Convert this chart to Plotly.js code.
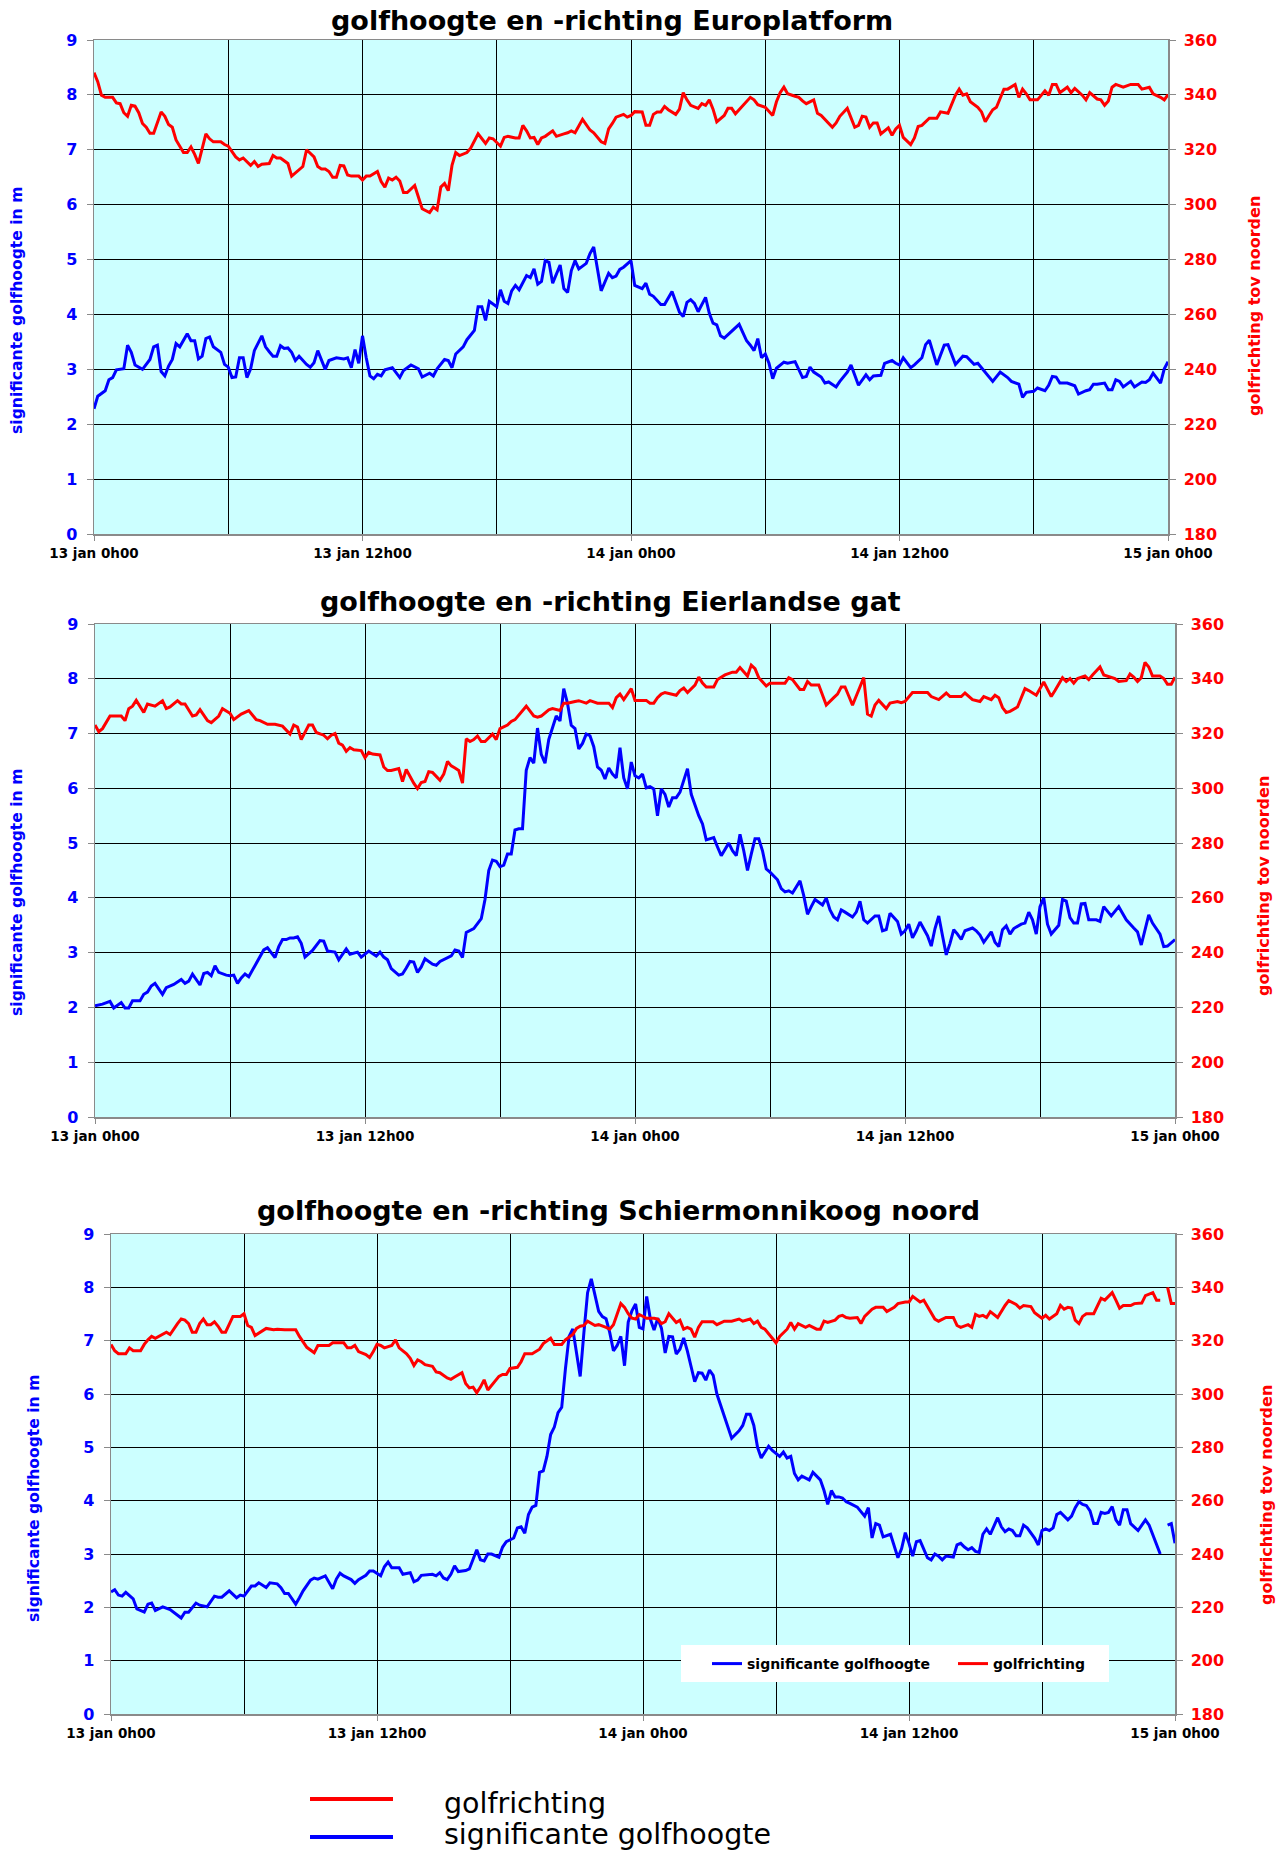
<!DOCTYPE html>
<html>
<head>
<meta charset="utf-8">
<script src="https://cdn.plot.ly/plotly-3.0.1.min.js"></script>
<style>
  html, body { margin: 0; padding: 0; background: #fff; }
  #chart { width: 1287px; height: 1852px; }
</style>
</head>
<body>
<div id="chart"></div>
<script>
// Time axis in minutes after 13 jan 0h00
const tickMinutes = [0, 720, 1440, 2160, 2880];
const tickLabels = ['13 jan 0h00', '13 jan 12h00', '14 jan 0h00', '14 jan 12h00', '15 jan 0h00'];
const gridMinutes = [360, 1080, 1800, 2520];

const stations = ['Europlatform', 'Eierlandse gat', 'Schiermonnikoog noord'];
const heightName = 'significante golfhoogte';
const directionName = 'golfrichting';

// [minuut, significante golfhoogte in m]
const europlatformHeight = [
  [0,2.28],[10,2.51],[30,2.61],[40,2.81],[50,2.85],[60,2.99],[80,3.01],[90,3.44],[100,3.31],[110,3.08],
  [130,3.00],[150,3.18],[160,3.41],[170,3.44],[180,2.96],[190,2.88],[200,3.06],[210,3.18],[220,3.47],[230,3.41],
  [250,3.65],[260,3.52],[270,3.52],[280,3.19],[290,3.24],[300,3.56],[310,3.59],[320,3.41],[340,3.31],[350,3.09],
  [360,3.04],[370,2.85],[380,2.86],[390,3.21],[400,3.21],[410,2.85],[420,3.01],[430,3.34],[450,3.61],[460,3.41],
  [470,3.32],[480,3.24],[490,3.24],[500,3.43],[510,3.38],[520,3.39],[530,3.31],[540,3.16],[550,3.24],[570,3.09],
  [580,3.04],[590,3.12],[600,3.34],[610,3.18],[620,3.00],[630,3.16],[640,3.19],[650,3.21],[670,3.19],[680,3.21],
  [690,3.03],[700,3.36],[710,3.11],[720,3.61],[730,3.21],[740,2.88],[750,2.83],[760,2.91],[770,2.88],[780,2.99],
  [800,3.03],[820,2.85],[830,2.98],[850,3.08],[870,3.01],[880,2.86],[900,2.93],[910,2.88],[920,3.01],[940,3.18],
  [950,3.16],[960,3.03],[970,3.28],[990,3.41],[1000,3.54],[1020,3.71],[1030,4.14],[1040,4.14],[1050,3.89],[1060,4.24],
  [1080,4.14],[1090,4.45],[1100,4.24],[1110,4.20],[1120,4.43],[1130,4.53],[1140,4.45],[1160,4.71],[1170,4.67],[1180,4.83],
  [1190,4.55],[1200,4.60],[1210,4.98],[1220,4.95],[1230,4.57],[1250,4.90],[1260,4.47],[1270,4.40],[1280,4.80],[1290,4.98],
  [1300,4.83],[1320,4.93],[1330,5.11],[1340,5.23],[1360,4.43],[1380,4.75],[1390,4.67],[1400,4.70],[1410,4.82],[1420,4.86],
  [1440,4.98],[1450,4.53],[1470,4.47],[1480,4.57],[1490,4.37],[1500,4.33],[1520,4.18],[1530,4.18],[1550,4.42],[1570,4.04],
  [1580,3.96],[1590,4.22],[1600,4.27],[1610,4.20],[1620,4.05],[1640,4.31],[1650,4.02],[1660,3.84],[1670,3.81],[1680,3.61],
  [1690,3.57],[1710,3.69],[1730,3.82],[1740,3.67],[1750,3.52],[1760,3.44],[1770,3.34],[1780,3.56],[1790,3.21],[1800,3.28],
  [1810,3.11],[1820,2.83],[1830,3.02],[1850,3.13],[1860,3.11],[1880,3.14],[1900,2.85],[1910,2.87],[1920,3.04],[1930,2.95],
  [1950,2.86],[1960,2.75],[1970,2.77],[1990,2.68],[2000,2.78],[2020,2.95],[2030,3.08],[2050,2.71],[2070,2.90],[2080,2.81],
  [2090,2.88],[2110,2.89],[2120,3.11],[2140,3.16],[2150,3.11],[2160,3.08],[2170,3.21],[2190,3.03],[2200,3.08],[2220,3.21],
  [2230,3.45],[2240,3.53],[2260,3.08],[2280,3.44],[2290,3.45],[2310,3.09],[2330,3.24],[2340,3.23],[2360,3.09],[2370,3.11],
  [2390,2.95],[2410,2.78],[2430,2.95],[2450,2.85],[2460,2.78],[2480,2.73],[2490,2.49],[2500,2.58],[2520,2.60],[2530,2.66],
  [2550,2.61],[2560,2.71],[2570,2.87],[2580,2.86],[2590,2.75],[2610,2.75],[2630,2.70],[2640,2.55],[2660,2.61],[2670,2.63],
  [2680,2.73],[2690,2.73],[2710,2.75],[2720,2.63],[2730,2.63],[2740,2.81],[2750,2.78],[2760,2.68],[2780,2.78],[2790,2.68],
  [2810,2.77],[2820,2.76],[2830,2.81],[2840,2.93],[2860,2.75],[2870,3.01],[2880,3.14]
];

// [minuut, golfrichting in graden t.o.v. noorden]
const europlatformDirection = [
  [0,348.1],[10,344.8],[20,339.9],[30,339.1],[50,339.1],[60,337.1],[70,336.8],[80,333.5],[90,332.2],[100,336.2],
  [110,335.9],[120,333.5],[130,329.6],[140,328.2],[150,326.0],[160,326.0],[180,333.8],[190,332.2],[200,329.2],[210,328.2],
  [220,323.6],[240,319.0],[250,319.0],[260,321.0],[270,318.3],[280,315.0],[300,325.8],[310,324.0],[320,322.9],[340,322.9],
  [350,321.9],[360,321.3],[380,317.4],[390,316.3],[400,317.0],[420,314.3],[430,315.7],[440,313.9],[450,314.7],[470,315.0],
  [480,317.9],[490,317.0],[500,317.0],[520,315.0],[530,310.4],[550,312.6],[560,313.9],[570,320.0],[590,317.4],[600,313.9],
  [610,313.0],[620,313.0],[630,312.1],[640,310.0],[650,310.0],[660,314.3],[670,314.1],[680,310.8],[690,310.4],[710,310.4],
  [720,309.0],[730,310.4],[740,310.4],[760,312.1],[770,308.4],[780,306.4],[790,309.7],[800,309.0],[810,310.0],[820,308.6],
  [830,304.4],[840,304.4],[860,307.0],[880,298.5],[890,297.8],[900,297.1],[910,299.1],[920,298.1],[930,306.4],[940,307.7],
  [950,305.1],[960,314.3],[970,319.0],[980,317.9],[1000,319.0],[1010,320.6],[1030,325.8],[1050,322.3],[1060,324.3],[1070,324.0],
  [1090,321.3],[1100,324.5],[1110,324.9],[1130,324.3],[1140,324.3],[1150,328.9],[1160,326.9],[1170,324.3],[1180,324.5],[1190,321.9],
  [1200,324.3],[1210,324.9],[1230,326.9],[1240,324.9],[1260,325.8],[1270,326.2],[1280,326.9],[1290,326.2],[1310,331.1],[1330,327.2],
  [1340,326.2],[1350,324.5],[1360,322.9],[1370,322.3],[1380,327.6],[1390,329.6],[1400,331.9],[1420,332.9],[1430,331.9],[1440,332.5],
  [1450,333.9],[1470,333.8],[1480,328.9],[1490,328.9],[1500,332.9],[1510,333.8],[1520,333.8],[1530,335.8],[1540,334.6],[1560,332.9],
  [1570,334.8],[1580,340.8],[1590,338.2],[1600,336.2],[1620,335.1],[1630,336.8],[1640,336.2],[1650,338.2],[1660,334.8],[1670,330.2],
  [1680,331.3],[1690,332.5],[1700,335.1],[1710,335.1],[1720,333.1],[1740,336.2],[1750,337.5],[1760,339.1],[1770,338.2],[1780,336.4],
  [1800,335.5],[1810,333.8],[1820,332.5],[1830,337.5],[1840,340.8],[1850,342.8],[1860,340.4],[1880,339.5],[1890,339.1],[1900,337.8],
  [1910,336.8],[1930,338.2],[1940,333.3],[1950,332.5],[1970,329.8],[1980,328.2],[1990,329.8],[2000,332.2],[2020,335.1],[2030,331.5],
  [2040,328.2],[2050,328.9],[2060,332.2],[2070,331.9],[2080,328.2],[2090,329.8],[2100,329.8],[2110,325.8],[2130,328.0],[2140,325.3],
  [2150,327.6],[2160,328.9],[2170,324.5],[2190,321.9],[2200,324.3],[2210,328.5],[2220,328.9],[2240,331.5],[2260,331.5],[2270,333.8],
  [2290,333.3],[2310,339.9],[2320,342.1],[2330,339.9],[2340,340.4],[2350,337.5],[2370,335.5],[2380,333.8],[2390,330.2],[2400,332.5],
  [2410,334.6],[2420,335.5],[2440,342.1],[2450,342.1],[2470,343.8],[2480,339.1],[2490,342.1],[2500,340.4],[2510,338.2],[2530,338.2],
  [2550,341.5],[2560,339.9],[2570,343.8],[2580,343.8],[2590,340.8],[2610,342.8],[2620,340.8],[2630,342.4],[2650,339.9],[2660,338.2],
  [2670,340.8],[2690,338.5],[2700,338.2],[2710,336.2],[2720,337.8],[2730,342.8],[2740,343.8],[2760,342.8],[2780,343.8],[2800,343.8],
  [2810,342.1],[2830,342.8],[2840,340.4],[2860,339.1],[2870,338.2],[2880,340.1]
];

const eierlandHeight = [
  [0,2.03],[20,2.06],[40,2.11],[50,1.99],[70,2.09],[80,1.99],[90,1.99],[100,2.12],[120,2.12],[130,2.24],
  [140,2.28],[150,2.39],[160,2.44],[180,2.24],[190,2.36],[210,2.42],[230,2.51],[240,2.44],[250,2.48],[260,2.61],
  [280,2.41],[290,2.62],[300,2.64],[310,2.58],[320,2.76],[330,2.64],[350,2.59],[360,2.58],[370,2.59],[380,2.44],
  [390,2.54],[400,2.61],[410,2.56],[430,2.81],[440,2.91],[450,3.05],[460,3.09],[480,2.91],[490,3.11],[500,3.24],
  [510,3.24],[520,3.27],[530,3.27],[540,3.29],[550,3.17],[560,2.92],[580,3.04],[590,3.14],[600,3.22],[610,3.21],
  [620,3.03],[640,3.01],[650,2.87],[670,3.07],[680,2.97],[700,3.01],[710,2.92],[730,3.03],[750,2.94],[760,3.01],
  [770,2.92],[780,2.87],[790,2.71],[810,2.59],[820,2.61],[830,2.72],[840,2.84],[850,2.83],[860,2.64],[870,2.74],
  [880,2.89],[900,2.79],[910,2.77],[920,2.84],[930,2.87],[940,2.91],[950,2.94],[960,3.05],[970,3.03],[980,2.91],
  [990,3.37],[1010,3.44],[1020,3.54],[1030,3.62],[1040,3.97],[1050,4.50],[1060,4.69],[1070,4.67],[1080,4.57],[1090,4.60],
  [1100,4.80],[1110,4.80],[1120,5.24],[1130,5.26],[1140,5.26],[1150,6.33],[1160,6.56],[1170,6.46],[1180,7.10],[1190,6.62],
  [1200,6.46],[1210,6.89],[1230,7.32],[1240,7.23],[1250,7.82],[1260,7.55],[1270,7.15],[1280,7.09],[1290,6.72],[1300,6.82],
  [1310,6.99],[1320,6.96],[1330,6.76],[1340,6.39],[1350,6.33],[1360,6.17],[1370,6.37],[1380,6.26],[1390,6.19],[1400,6.74],
  [1410,6.19],[1420,5.99],[1430,6.48],[1440,6.23],[1450,6.19],[1460,6.26],[1470,6.01],[1480,6.03],[1490,5.99],[1500,5.50],
  [1510,5.99],[1520,5.89],[1530,5.66],[1540,5.83],[1550,5.83],[1560,5.93],[1580,6.36],[1590,5.89],[1610,5.50],[1620,5.35],
  [1630,5.06],[1650,5.10],[1660,4.93],[1670,4.77],[1690,5.00],[1700,4.86],[1710,4.77],[1720,5.16],[1730,4.86],[1740,4.50],
  [1750,4.80],[1760,5.08],[1770,5.08],[1780,4.86],[1790,4.53],[1800,4.47],[1820,4.33],[1830,4.17],[1840,4.11],[1850,4.13],
  [1860,4.09],[1880,4.31],[1890,4.04],[1900,3.70],[1910,3.84],[1920,3.97],[1940,3.87],[1950,4.00],[1960,3.78],[1970,3.65],
  [1980,3.60],[1990,3.78],[2000,3.74],[2020,3.65],[2030,3.74],[2040,3.94],[2050,3.60],[2060,3.54],[2080,3.67],[2090,3.67],
  [2100,3.40],[2110,3.42],[2120,3.72],[2140,3.57],[2150,3.34],[2160,3.40],[2170,3.52],[2180,3.27],[2190,3.40],[2200,3.56],
  [2220,3.31],[2230,3.12],[2240,3.44],[2250,3.67],[2260,3.31],[2270,2.96],[2280,3.17],[2290,3.42],[2300,3.34],[2310,3.24],
  [2320,3.40],[2340,3.45],[2350,3.40],[2360,3.32],[2370,3.19],[2390,3.38],[2400,3.19],[2410,3.11],[2420,3.42],[2430,3.49],
  [2440,3.34],[2450,3.44],[2470,3.52],[2480,3.54],[2490,3.74],[2500,3.60],[2510,3.34],[2520,3.84],[2530,4.00],[2540,3.52],
  [2550,3.34],[2570,3.50],[2580,3.97],[2590,3.94],[2600,3.64],[2610,3.54],[2620,3.54],[2630,3.89],[2640,3.90],[2650,3.60],
  [2670,3.60],[2680,3.57],[2690,3.84],[2710,3.67],[2730,3.84],[2750,3.60],[2770,3.45],[2780,3.38],[2790,3.14],[2810,3.69],
  [2820,3.54],[2840,3.34],[2850,3.11],[2860,3.12],[2880,3.24]
];

const eierlandDirection = [
  [0,323.1],[10,320.7],[20,321.8],[40,326.4],[60,326.4],[70,326.4],[80,324.7],[90,329.1],[100,330.0],[110,332.1],
  [130,327.7],[140,330.8],[160,330.0],[180,332.0],[190,329.1],[200,329.7],[220,332.0],[230,330.8],[240,330.8],[260,326.4],
  [270,326.8],[280,328.7],[300,324.7],[310,324.0],[330,326.4],[340,329.1],[360,327.4],[370,325.1],[390,327.1],[400,327.7],
  [410,328.4],[430,325.1],[440,324.7],[460,323.4],[480,323.4],[500,322.7],[520,319.8],[530,323.1],[540,322.4],[550,317.8],
  [570,323.1],[580,323.1],[590,320.4],[610,319.4],[620,318.1],[630,319.4],[640,320.0],[650,316.5],[660,315.8],[670,313.5],
  [680,314.9],[690,314.1],[710,313.8],[720,311.2],[730,313.1],[740,312.5],[760,312.2],[770,307.8],[780,306.5],[790,306.5],
  [810,307.2],[820,302.5],[830,306.9],[850,301.9],[860,299.9],[870,302.1],[880,302.5],[890,306.1],[900,305.8],[920,302.9],
  [930,305.2],[940,309.8],[950,308.2],[960,307.4],[970,306.5],[980,301.9],[990,318.1],[1000,317.1],[1010,317.8],[1020,319.1],
  [1030,317.1],[1040,317.1],[1060,319.8],[1070,317.8],[1080,321.8],[1100,323.1],[1110,324.4],[1120,325.1],[1140,328.4],[1150,330.0],
  [1170,326.4],[1180,326.0],[1190,326.4],[1210,328.7],[1220,329.1],[1240,328.4],[1250,331.1],[1260,331.1],[1280,331.7],[1290,332.0],
  [1310,331.1],[1320,332.0],[1340,331.1],[1350,331.1],[1370,331.1],[1380,329.5],[1390,333.1],[1400,334.4],[1410,332.4],[1430,336.4],
  [1440,332.1],[1450,332.1],[1470,332.1],[1480,331.1],[1490,331.1],[1500,333.1],[1510,334.4],[1520,335.0],[1540,334.4],[1550,334.0],
  [1560,335.7],[1570,336.6],[1580,335.0],[1600,337.7],[1610,340.6],[1620,338.4],[1630,337.0],[1650,337.0],[1660,339.7],[1680,341.4],
  [1700,342.4],[1710,342.4],[1720,344.1],[1740,341.0],[1750,345.0],[1760,343.7],[1770,340.4],[1790,337.4],[1800,338.4],[1820,338.4],
  [1840,338.4],[1850,340.4],[1860,339.7],[1880,336.1],[1890,336.1],[1900,339.0],[1910,337.7],[1930,337.7],[1940,334.4],[1950,330.4],
  [1970,333.1],[1980,334.4],[1990,337.0],[2000,337.0],[2010,333.7],[2020,330.4],[2030,333.7],[2050,340.4],[2060,327.1],[2070,326.4],
  [2080,330.4],[2090,332.1],[2110,329.1],[2120,331.1],[2140,331.7],[2150,331.3],[2160,331.7],[2170,333.5],[2180,335.0],[2200,335.0],
  [2220,335.0],[2230,333.5],[2250,332.4],[2270,334.8],[2280,333.5],[2300,333.5],[2310,333.5],[2320,334.8],[2340,332.4],[2360,331.7],
  [2370,333.5],[2390,332.4],[2400,334.0],[2410,333.1],[2420,329.5],[2430,327.7],[2440,328.1],[2460,329.7],[2480,336.4],[2490,335.7],
  [2510,334.0],[2530,338.8],[2550,333.5],[2560,335.7],[2580,340.4],[2590,339.0],[2600,340.1],[2610,338.4],[2620,340.1],[2640,341.0],
  [2650,339.7],[2660,341.4],[2680,344.3],[2690,341.4],[2700,341.0],[2720,340.1],[2730,339.0],[2750,339.3],[2760,341.7],[2770,340.6],
  [2780,339.0],[2790,340.4],[2800,346.0],[2810,344.3],[2820,341.0],[2840,341.0],[2850,340.1],[2860,338.0],[2870,338.0],[2880,340.6]
];

const schiermonnikoogHeight = [
  [0,2.29],[10,2.33],[20,2.23],[30,2.21],[40,2.28],[60,2.16],[70,1.97],[90,1.91],[100,2.06],[110,2.08],
  [120,1.94],[140,2.01],[160,1.96],[170,1.91],[190,1.80],[200,1.91],[210,1.91],[230,2.08],[240,2.04],[260,2.01],
  [280,2.21],[290,2.19],[300,2.19],[320,2.31],[340,2.18],[350,2.23],[360,2.21],[380,2.40],[390,2.40],[400,2.46],
  [420,2.37],[430,2.46],[450,2.44],[460,2.37],[470,2.26],[480,2.26],[500,2.06],[510,2.18],[520,2.31],[540,2.51],
  [550,2.55],[560,2.53],[580,2.59],[600,2.35],[610,2.53],[620,2.64],[630,2.59],[650,2.52],[660,2.45],[670,2.52],
  [690,2.60],[700,2.68],[710,2.68],[730,2.59],[740,2.76],[750,2.85],[760,2.74],[780,2.74],[790,2.62],[810,2.65],
  [820,2.48],[830,2.51],[840,2.60],[870,2.62],[880,2.59],[890,2.65],[900,2.55],[910,2.52],[920,2.62],[930,2.78],
  [940,2.67],[960,2.69],[970,2.72],[990,3.08],[1000,2.89],[1010,2.87],[1020,3.00],[1030,3.00],[1050,2.94],[1060,3.13],
  [1070,3.23],[1090,3.30],[1100,3.49],[1110,3.51],[1120,3.39],[1130,3.74],[1140,3.88],[1150,3.91],[1160,4.53],[1170,4.56],
  [1180,4.83],[1190,5.24],[1200,5.38],[1210,5.65],[1220,5.75],[1230,6.47],[1240,7.08],[1250,7.22],[1260,6.81],[1270,6.33],
  [1280,7.15],[1290,7.90],[1300,8.16],[1310,7.85],[1320,7.55],[1330,7.45],[1340,7.41],[1350,7.15],[1360,6.81],[1370,6.91],
  [1380,7.08],[1390,6.53],[1400,7.35],[1410,7.56],[1420,7.69],[1430,7.25],[1440,7.22],[1450,7.83],[1460,7.40],[1470,7.20],
  [1480,7.42],[1490,7.23],[1500,6.77],[1510,7.08],[1520,7.07],[1530,6.75],[1540,6.84],[1550,7.05],[1560,6.81],[1580,6.23],
  [1590,6.40],[1600,6.39],[1610,6.26],[1620,6.45],[1630,6.35],[1640,6.00],[1650,5.79],[1670,5.34],[1680,5.17],[1700,5.31],
  [1710,5.41],[1720,5.62],[1730,5.62],[1740,5.41],[1750,5.00],[1760,4.80],[1770,4.90],[1780,5.02],[1790,4.94],[1800,4.89],
  [1810,4.83],[1820,4.91],[1830,4.80],[1840,4.83],[1850,4.51],[1860,4.39],[1870,4.46],[1890,4.39],[1900,4.53],[1920,4.39],
  [1930,4.19],[1940,3.93],[1950,4.19],[1960,4.07],[1970,4.07],[1980,4.05],[1990,3.98],[2000,3.95],[2010,3.91],[2020,3.88],
  [2040,3.71],[2050,3.87],[2060,3.30],[2070,3.57],[2080,3.54],[2090,3.32],[2110,3.37],[2130,2.93],[2140,3.10],[2150,3.40],
  [2160,3.20],[2170,2.96],[2180,3.23],[2190,3.25],[2210,2.93],[2220,2.89],[2230,3.00],[2240,2.96],[2250,2.89],[2260,2.96],
  [2280,2.94],[2290,3.17],[2300,3.20],[2310,3.13],[2320,3.08],[2330,3.12],[2340,3.05],[2350,3.03],[2360,3.37],[2370,3.47],
  [2380,3.37],[2400,3.68],[2410,3.51],[2420,3.42],[2430,3.47],[2440,3.44],[2450,3.34],[2460,3.34],[2470,3.54],[2480,3.49],
  [2500,3.30],[2510,3.17],[2520,3.44],[2530,3.47],[2540,3.44],[2550,3.49],[2560,3.74],[2570,3.78],[2590,3.64],[2600,3.71],
  [2610,3.87],[2620,3.98],[2630,3.93],[2640,3.91],[2650,3.81],[2660,3.57],[2670,3.57],[2680,3.78],[2690,3.76],[2700,3.78],
  [2710,3.89],[2720,3.64],[2730,3.54],[2740,3.83],[2750,3.83],[2760,3.57],[2780,3.44],[2790,3.55],[2800,3.64],[2810,3.54],
  [2820,3.37],[2830,3.20],[2840,3.00],[2850,null],[2860,3.54],[2870,3.57],[2880,3.20]
];

const schiermonnikoogDirection = [
  [0,318.6],[10,316.2],[20,315.1],[40,315.1],[50,317.3],[60,316.2],[80,316.2],[90,318.6],[100,320.3],[110,321.6],
  [120,320.9],[140,322.3],[150,323.2],[160,322.3],[170,324.6],[180,326.4],[190,328.1],[200,327.7],[210,326.4],[220,323.2],
  [230,323.2],[240,326.4],[250,328.1],[260,326.0],[270,326.0],[280,327.1],[290,325.4],[300,323.2],[310,323.2],[330,329.1],
  [350,329.1],[360,330.1],[370,325.7],[380,325.0],[390,321.9],[410,323.7],[420,324.6],[440,324.1],[450,324.3],[470,324.1],
  [480,324.1],[490,324.1],[500,324.1],[510,321.6],[530,317.5],[550,315.5],[560,318.2],[570,318.2],[590,318.2],[600,319.2],
  [610,319.2],[630,319.2],[640,317.3],[650,317.3],[660,318.2],[670,315.9],[690,314.8],[700,313.7],[710,315.9],[720,318.6],
  [730,318.2],[740,317.3],[760,318.2],[770,320.3],[780,317.3],[790,316.2],[800,315.1],[810,313.4],[820,310.7],[830,312.8],
  [840,312.1],[850,311.0],[870,310.4],[880,308.3],[890,308.0],[910,306.0],[920,305.5],[930,306.4],[950,308.0],[960,303.9],
  [970,302.3],[980,302.6],[990,300.5],[1000,302.6],[1010,305.3],[1020,301.5],[1030,303.2],[1050,306.6],[1060,307.3],[1070,307.3],
  [1080,309.6],[1100,310.0],[1110,312.1],[1120,315.1],[1140,315.1],[1160,316.8],[1170,318.9],[1190,320.9],[1200,318.6],[1220,318.6],
  [1230,320.3],[1250,322.3],[1260,324.6],[1270,325.4],[1280,325.7],[1290,327.3],[1310,325.7],[1320,326.0],[1340,325.0],[1350,324.3],
  [1360,326.0],[1370,329.8],[1380,333.9],[1390,332.5],[1400,330.1],[1410,328.4],[1420,328.1],[1430,329.8],[1440,329.1],[1450,328.4],
  [1470,328.4],[1480,328.1],[1490,326.4],[1500,327.1],[1510,330.1],[1520,328.4],[1530,326.8],[1540,327.7],[1550,324.3],[1560,325.0],
  [1570,324.3],[1580,321.3],[1590,325.0],[1600,327.1],[1620,327.1],[1630,327.1],[1640,326.0],[1660,327.3],[1680,327.3],[1700,328.1],
  [1710,327.3],[1730,328.1],[1740,326.4],[1750,327.3],[1760,325.0],[1770,324.3],[1790,320.9],[1800,319.2],[1810,321.6],[1830,324.3],
  [1840,326.8],[1850,324.3],[1860,326.4],[1880,325.0],[1890,325.7],[1900,325.0],[1910,324.3],[1920,324.3],[1930,327.3],[1940,326.8],
  [1960,327.7],[1970,329.1],[1980,329.5],[1990,328.7],[2000,328.4],[2020,328.7],[2030,326.4],[2040,329.1],[2060,331.8],[2070,332.5],
  [2090,332.5],[2100,330.9],[2120,332.5],[2130,333.9],[2150,334.5],[2160,334.5],[2170,336.6],[2190,334.5],[2200,335.2],[2210,332.8],
  [2230,328.1],[2240,327.3],[2260,328.7],[2280,328.7],[2290,325.7],[2300,325.0],[2320,326.0],[2330,325.0],[2340,329.8],[2350,329.1],
  [2360,329.5],[2370,328.7],[2380,330.9],[2400,328.7],[2410,331.1],[2420,333.2],[2430,335.0],[2450,333.6],[2460,332.2],[2470,333.2],
  [2490,332.8],[2500,330.5],[2520,328.4],[2530,329.5],[2540,328.1],[2560,330.1],[2570,333.2],[2580,331.8],[2590,332.5],[2600,332.2],
  [2610,327.7],[2620,326.4],[2630,329.1],[2640,330.1],[2660,330.1],[2670,333.2],[2680,335.9],[2690,335.2],[2710,338.0],[2720,335.2],
  [2730,332.2],[2740,333.2],[2760,333.2],[2770,333.9],[2790,334.1],[2800,336.9],[2820,338.0],[2830,335.2],[2840,335.2],[2850,null],
  [2860,340.0],[2870,333.9],[2880,333.9]
];

const stationSeries = [
  { height: europlatformHeight, direction: europlatformDirection },
  { height: eierlandHeight, direction: eierlandDirection },
  { height: schiermonnikoogHeight, direction: schiermonnikoogDirection }
];

// ---- page geometry (pixels) ----
const W = 1287, H = 1852;
const px = v => v / W;
const py = v => 1 - v / H;

const FONT = 'DejaVu Sans, Verdana, sans-serif';
const BLUE = '#0000FF', RED = '#FF0000';
const FRAME = '#8a8a8a';

const panels = [
  { x0: 94,  x1: 1168, y0: 40,   y1: 534,  titleX: 612, titleY: 21,   titleSize: 27, leftX: 17, leftY: 311,  rightX: 1254, rightY: 306 },
  { x0: 95,  x1: 1175, y0: 624,  y1: 1117, titleX: 610, titleY: 601,  titleSize: 27, leftX: 17, leftY: 893,  rightX: 1263, rightY: 886 },
  { x0: 111, x1: 1175, y0: 1234, y1: 1714, titleX: 618, titleY: 1210, titleSize: 27, leftX: 34, leftY: 1499, rightX: 1266, rightY: 1495 }
];

const data = [];
const layout = {
  width: W, height: H,
  autosize: false,
  margin: { l: 0, r: 0, t: 0, b: 0, pad: 0 },
  paper_bgcolor: '#ffffff',
  plot_bgcolor: '#CCFFFF',
  showlegend: true,
  legend: {
    orientation: 'h',
    x: px(707), xanchor: 'left',
    y: py(1664), yanchor: 'middle',
    bgcolor: 'rgba(0,0,0,0)',
    borderwidth: 0,
    font: { family: FONT, size: 14, color: '#000', weight: 'bold' },
    itemwidth: 30,
    entrywidth: 201,
    entrywidthmode: 'pixels',
    traceorder: 'normal'
  },
  annotations: [],
  shapes: []
};

panels.forEach((p, i) => {
  const xKey = i === 0 ? 'xaxis' : 'xaxis' + (i + 1);
  const xId = i === 0 ? 'x' : 'x' + (i + 1);
  const yLeftNum = 2 * i + 1, yRightNum = 2 * i + 2;
  const yLeftKey = yLeftNum === 1 ? 'yaxis' : 'yaxis' + yLeftNum;
  const yLeftId = yLeftNum === 1 ? 'y' : 'y' + yLeftNum;
  const yRightKey = 'yaxis' + yRightNum;
  const yRightId = 'y' + yRightNum;

  const xDomain = [px(p.x0), px(p.x1)];
  const yDomain = [py(p.y1), py(p.y0)];

  layout[xKey] = {
    domain: xDomain,
    anchor: yLeftId,
    range: [0, 2880],
    tickmode: 'array',
    tickvals: tickMinutes,
    ticktext: tickLabels,
    ticks: 'outside', ticklen: 5, tickwidth: 1, tickcolor: FRAME,
    showgrid: true, gridcolor: '#000000', gridwidth: 1,
    minor: { tickmode: 'array', tickvals: gridMinutes, showgrid: true, gridcolor: '#000000', gridwidth: 1, ticks: '' },
    showline: true, linecolor: FRAME, linewidth: 1.5, mirror: true,
    zeroline: false,
    ticklabelstandoff: 1,
    tickfont: { family: FONT, size: 13.5, color: '#000000', weight: 'bold' },
    fixedrange: true
  };

  layout[yLeftKey] = {
    domain: yDomain,
    anchor: xId,
    range: [0, 9],
    tickmode: 'linear', tick0: 0, dtick: 1,
    ticks: 'outside', ticklen: 6, tickwidth: 1, tickcolor: FRAME,
    showgrid: true, gridcolor: '#000000', gridwidth: 1,
    showline: true, linecolor: FRAME, linewidth: 1.5,
    zeroline: false,
    ticklabelstandoff: 6,
    tickfont: { family: FONT, size: 16, color: BLUE, weight: 'bold' },
    fixedrange: true
  };

  layout[yRightKey] = {
    domain: yDomain,
    anchor: xId,
    overlaying: yLeftId,
    side: 'right',
    range: [180, 360],
    tickmode: 'linear', tick0: 180, dtick: 20,
    ticks: 'outside', ticklen: 6, tickwidth: 1, tickcolor: FRAME,
    showgrid: false,
    showline: true, linecolor: FRAME, linewidth: 1.5,
    zeroline: false,
    ticklabelstandoff: 5,
    tickfont: { family: FONT, size: 16, color: RED, weight: 'bold' },
    fixedrange: true
  };

  const s = stationSeries[i];
  data.push({
    type: 'scatter', mode: 'lines',
    name: heightName,
    x: s.height.map(d => d[0]),
    y: s.height.map(d => d[1]),
    xaxis: xId, yaxis: yLeftId,
    line: { color: BLUE, width: 3 },
    showlegend: i === 2,
    hoverinfo: 'skip'
  });
  data.push({
    type: 'scatter', mode: 'lines',
    name: directionName,
    x: s.direction.map(d => d[0]),
    y: s.direction.map(d => d[1]),
    xaxis: xId, yaxis: yRightId,
    line: { color: RED, width: 3 },
    showlegend: i === 2,
    hoverinfo: 'skip'
  });

  layout.annotations.push({
    text: 'golfhoogte en -richting ' + stations[i],
    xref: 'paper', yref: 'paper', x: px(p.titleX), y: py(p.titleY),
    xanchor: 'center', yanchor: 'middle', showarrow: false,
    font: { family: FONT, size: p.titleSize, color: '#000000', weight: 'bold' }
  });
  layout.annotations.push({
    text: 'significante golfhoogte in m',
    xref: 'paper', yref: 'paper', x: px(p.leftX), y: py(p.leftY),
    xanchor: 'center', yanchor: 'middle', showarrow: false, textangle: -90,
    font: { family: FONT, size: 15.6, color: BLUE, weight: 'bold' }
  });
  layout.annotations.push({
    text: 'golfrichting tov noorden',
    xref: 'paper', yref: 'paper', x: px(p.rightX), y: py(p.rightY),
    xanchor: 'center', yanchor: 'middle', showarrow: false, textangle: -90,
    font: { family: FONT, size: 16, color: RED, weight: 'bold' }
  });
});

// white key box inside the last panel
layout.shapes.push({
  type: 'rect', xref: 'paper', yref: 'paper', layer: 'above',
  x0: px(681), x1: px(1109), y0: py(1682), y1: py(1645),
  fillcolor: '#ffffff', line: { width: 0 }
});

// key below the panels
const keyRows = [
  { text: directionName, color: RED, lineY: 1799, textY: 1803 },
  { text: heightName, color: BLUE, lineY: 1837, textY: 1834 }
];
keyRows.forEach(k => {
  layout.shapes.push({
    type: 'line', xref: 'paper', yref: 'paper',
    x0: px(310), x1: px(393), y0: py(k.lineY), y1: py(k.lineY),
    line: { color: k.color, width: 4 }
  });
  layout.annotations.push({
    text: k.text,
    xref: 'paper', yref: 'paper', x: px(442), y: py(k.textY),
    xanchor: 'left', yanchor: 'middle', showarrow: false,
    font: { family: FONT, size: 28.5, color: '#000000' }
  });
});

Plotly.newPlot('chart', data, layout, { staticPlot: true, displayModeBar: false });
</script>
</body>
</html>
